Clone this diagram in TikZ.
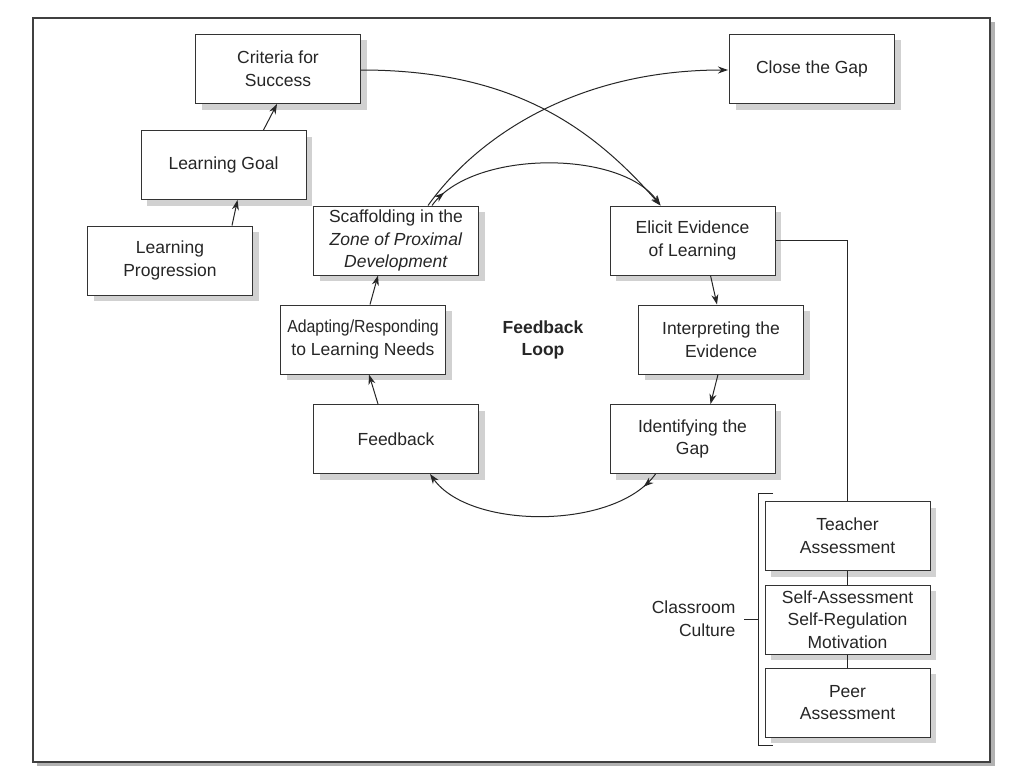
\documentclass[tikz,border=0pt]{standalone}
\usepackage{fontspec}
\setmainfont{Liberation Sans}
\usetikzlibrary{arrows.meta,shadows,calc,decorations.markings}
\begin{document}
\begin{tikzpicture}[x=1pt,y=-1pt,
  box/.style={draw=black!80, line width=1pt, fill=white, minimum width=165pt, minimum height=69pt,
    align=center, inner sep=2pt, font=\fontsize{17.5}{22.7}\selectfont, text=black!85,
    drop shadow={shadow xshift=6pt, shadow yshift=-6pt, fill=black!18, opacity=1}},
  arr/.style={-{Stealth[length=10pt,width=7pt]}, line width=1pt, draw=black!85},
  flowmark/.style={postaction={decorate}, decoration={markings,
    mark=at position #1 with {\arrow{Stealth[length=10pt,width=7pt]}}}},
  ln/.style={line width=1pt, draw=black!85},
  lbl/.style={font=\fontsize{17.5}{22.7}\selectfont, text=black!85}
]
\useasboundingbox (0,0) rectangle (1024,768);
% frame
\fill[black!30] (37,22) rectangle (995,766);
\draw[black!75, line width=1.6pt, fill=white] (33,18) rectangle (990,762);

% nodes
\node[box] (crit)   at (278,69)     {Criteria for\\Success};
\node[box] (goal)   at (223.5,165)  {Learning Goal};
\node[box] (prog)   at (170,260.5)  {Learning\\Progression};
\node[box] (scaf)   at (396,240.5)  {Scaffolding in the\\\textit{Zone of Proximal}\\\textit{Development}};
\node[box] (adapt)  at (363,339.5)  {\scalebox{0.905}[1]{Adapting/Responding}\\to Learning Needs};
\node[box] (fb)     at (396,439)    {Feedback};
\node[box] (elicit) at (692.5,240.5){Elicit Evidence\\of Learning};
\node[box] (interp) at (721,339.5)  {Interpreting the\\Evidence};
\node[box] (ident)  at (692.5,439)  {Identifying the\\Gap};
\node[box] (close)  at (812,69)     {Close the Gap};
\node[box] (teach)  at (847.5,536)  {Teacher\\Assessment};
\node[box] (self)   at (847.5,619.5){Self-Assessment\\Self-Regulation\\Motivation};
\node[box] (peer)   at (847.5,702.5){Peer\\Assessment};

\node[lbl, font=\fontsize{17.5}{22.7}\selectfont\bfseries, align=center] (loop) at (543,340) {Feedback\\Loop};
\node[lbl, align=right, anchor=east] (cc) at (739,619) {Classroom\\Culture};

% straight arrows
\draw[arr] ($(prog.north)+(62,0)$) -- ($(goal.south)+(14,0)$);
\draw[arr] ($(goal.north)+(40,0)$) -- ($(crit.south)+(-1,0)$);
\draw[arr] ($(fb.north)+(-18,0)$) -- ($(adapt.south)+(6,0)$);
\draw[arr] ($(adapt.north)+(7,0)$) -- ($(scaf.south)+(-18,0)$);
\draw[arr] ($(elicit.south)+(18,0)$) -- ($(interp.north)+(-4,0)$);
\draw[arr] ($(interp.south)+(-3,0)$) -- ($(ident.north)+(18,0)$);

% curves
\draw[arr] ($(crit.east)+(0,1)$) .. controls +(150,0) and +(-70,-80) .. ($(elicit.north)+(-32,0)$);
\draw[arr] ($(scaf.north)+(32,0)$) .. controls +(50,-70) and +(-150,0) .. ($(close.west)+(-1,1)$);
\draw[arr, flowmark=0.07] ($(scaf.north)+(36,0)$) .. controls +(40,-56) and +(-40,-56) .. ($(elicit.north)+(-32,0)$);
\draw[arr, flowmark=0.07] ($(ident.south)+(-37,0)$) .. controls +(-40,56) and +(40,56) .. ($(fb.south)+(34,0)$);

% classroom culture
\draw[ln] (elicit.east) -| (teach.north);
\draw[ln] (teach.south) -- (self.north);
\draw[ln] (self.south) -- (peer.north);
\coordinate (bt) at (758,493);
\coordinate (bb) at (758,745);
\draw[ln] ($(bt)+(15,0)$) -- (bt) -- (bb) -- ($(bb)+(15,0)$);
\draw[ln] ($(cc.east)+(5,0)$) -- (bt |- cc.east);
\end{tikzpicture}
\end{document}
